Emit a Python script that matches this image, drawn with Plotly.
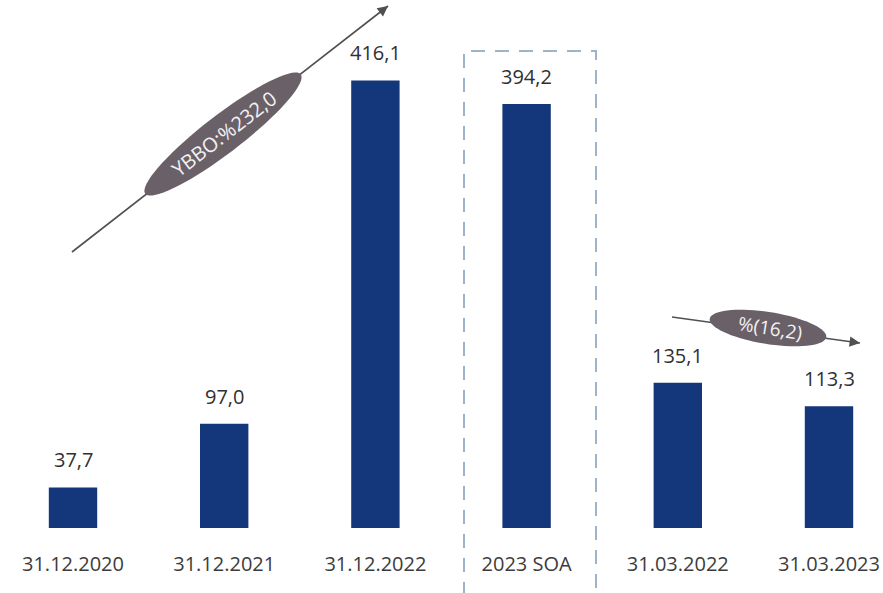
import numpy as np
import plotly.graph_objects as go

categories = ["31.12.2020", "31.12.2021", "31.12.2022", "2023 SOA", "31.03.2022", "31.03.2023"]
values = [37.7, 97.0, 416.1, 394.2, 135.1, 113.3]
value_labels = ["37,7", "97,0", "416,1", "394,2", "135,1", "113,3"]
cagr_text = "YBBO:%232,0"
change_text = "%(16,2)"

OFF = 0                      # body margin removed via post_script
W, H = 883, 593              # figure size
L, R, T, B = 0, 0, 44, 65
XMIN = -73 / 151.2
XMAX = XMIN + 883 / 151.2
YMIN, YMAX = 0, 450
pw, ph = W - L - R, H - T - B

def pxp(px):   # page pixel x -> paper x
    return (px - OFF - L) / pw

def pyp(py):   # page pixel y -> paper y
    return (H - B - (py - OFF)) / ph

xs = list(range(len(categories)))
bar_color = "#14367a"
font_family = "Open Sans, Noto Sans, sans-serif"

fig = go.Figure()
fig.add_trace(go.Bar(
    x=xs, y=values, width=0.32,
    marker=dict(color=bar_color, line=dict(width=0)),
    hoverinfo="skip",
))

for xv, yv, lab in zip(xs, values, value_labels):
    fig.add_annotation(x=xv, y=yv, xref="x", yref="y", text=lab, showarrow=False,
                       xanchor="center", yanchor="bottom", yshift=12,
                       font=dict(size=20, color="#303030", family=font_family))

def ellipse_path(cx, cy, a, b, ang_deg, n=72):
    t = np.linspace(0, 2 * np.pi, n)
    ang = np.deg2rad(ang_deg)
    ex = cx + a * np.cos(t) * np.cos(ang) - b * np.sin(t) * np.sin(ang)
    ey = cy + a * np.cos(t) * np.sin(ang) + b * np.sin(t) * np.cos(ang)
    pts = [(pxp(x), pyp(y)) for x, y in zip(ex, ey)]
    return "M " + " L ".join(f"{x:.5f},{y:.5f}" for x, y in pts) + " Z"

ell_color = "#6a6168"
arrow_color = "#505050"

def arrow(x0, y0, x1, y1):
    fig.add_shape(type="line", x0=pxp(x0), y0=pyp(y0), x1=pxp(x1), y1=pyp(y1),
                  xref="paper", yref="paper", line=dict(color=arrow_color, width=1.6))
    d = np.hypot(x1 - x0, y1 - y0)
    fig.add_annotation(x=pxp(x1), y=pyp(y1), xref="paper", yref="paper",
                       ax=-(x1 - x0) / d * 12, ay=-(y1 - y0) / d * 12,
                       axref="pixel", ayref="pixel", text="",
                       showarrow=True, arrowhead=2, arrowsize=1.3, arrowwidth=1.6,
                       arrowcolor=arrow_color)

# arrow 1 (CAGR)
arrow(72, 252, 388, 6)
fig.add_shape(type="path", path=ellipse_path(223, 134, 98, 19, -37.5),
              xref="paper", yref="paper", fillcolor=ell_color, line=dict(width=0))
fig.add_annotation(x=pxp(224), y=pyp(133), xref="paper", yref="paper", text=cagr_text,
                   showarrow=False, textangle=-37.5, xanchor="center", yanchor="middle",
                   font=dict(size=20, color="#f4f0f2", family=font_family))

# arrow 2 (change)
arrow(672, 317, 860, 343)
fig.add_shape(type="path", path=ellipse_path(768, 328, 59, 16, 9),
              xref="paper", yref="paper", fillcolor=ell_color, line=dict(width=0))
fig.add_annotation(x=pxp(770), y=pyp(328), xref="paper", yref="paper", text=change_text,
                   showarrow=False, textangle=9, xanchor="center", yanchor="middle",
                   font=dict(size=19, color="#f4f0f2", family=font_family))

# dashed box around forecast
fig.add_shape(type="rect", x0=pxp(464), x1=pxp(596), y0=pyp(600), y1=pyp(51),
              xref="paper", yref="paper",
              line=dict(color="#9fb2cc", width=2, dash="14px,10px"),
              fillcolor="rgba(0,0,0,0)")

fig.update_layout(
    width=W, height=H, margin=dict(l=L, r=R, t=T, b=B),
    paper_bgcolor="white", plot_bgcolor="white", showlegend=False,
    xaxis=dict(range=[XMIN, XMAX], tickvals=xs, ticktext=categories,
               showgrid=False, zeroline=False, showline=False, ticks="",
               automargin=False, ticklabelstandoff=22,
               tickfont=dict(size=20, color="#3c3c3c", family=font_family)),
    yaxis=dict(range=[YMIN, YMAX], visible=False, automargin=False),
)
fig.write_html("out.html", config={"displayModeBar": False},
               post_script="document.body.style.margin='0';document.body.style.overflow='hidden';")
